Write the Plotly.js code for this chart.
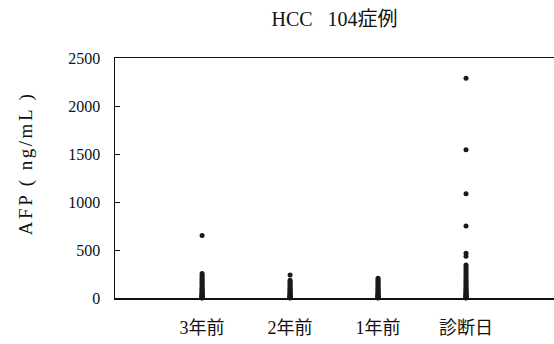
<!DOCTYPE html>
<html><head><meta charset="utf-8">
<script src="https://cdn.plot.ly/plotly-3.0.1.min.js"></script>
<style>html,body{margin:0;padding:0;background:#fff}
#c .annotation-text{letter-spacing:2.5px}</style>
</head><body><div id="c" style="width:554px;height:344px"></div>
<script>
const categories = ["3年前", "2年前", "1年前", "診断日"];
const yTicks = [0, 500, 1000, 1500, 2000, 2500];
const afp3y = [650, 255, 235, 215, 195, 180, 165, 150, 135, 120, 105, 95, 85, 75, 65, 55, 48, 40, 33, 27, 21, 16, 12, 9, 6, 4, 3, 2, 1];
const afp2y = [240, 185, 170, 155, 140, 125, 110, 98, 86, 75, 64, 54, 45, 37, 30, 24, 18, 13, 9, 6, 4, 2, 1];
const afp1y = [205, 190, 175, 160, 145, 130, 116, 102, 90, 78, 67, 57, 48, 40, 32, 25, 19, 14, 10, 6, 4, 2, 1];
const afpDx = [2290, 1545, 1085, 750, 465, 435, 345, 325, 305, 285, 265, 245, 225, 205, 185, 168, 152, 136, 120, 105, 92, 80, 68, 57, 47, 38, 30, 23, 17, 12, 8, 5, 3, 1];
const series = [afp3y, afp2y, afp1y, afpDx];

const xs = [], ys = [];
series.forEach((vals, i) => vals.forEach(v => { xs.push(categories[i]); ys.push(v); }));

const serif = '"Liberation Serif", "Noto Sans CJK JP", serif';
const data = [{
  type: 'scatter', mode: 'markers', x: xs, y: ys,
  marker: {size: 5, color: '#1a1a1a'}, hoverinfo: 'none', cliponaxis: false
}];
const layout = {
  width: 554, height: 344,
  margin: {l: 115, r: 0, t: 58, b: 46},
  paper_bgcolor: '#fff', plot_bgcolor: '#fff', showlegend: false,
  title: {text: 'HCC\u00a0\u00a0\u00a0104症例', xref: 'paper', x: 0.5, xanchor: 'center', y: 0.945, yanchor: 'middle',
          font: {family: serif, size: 20, color: '#111'}},
  xaxis: {type: 'category', categoryorder: 'array', categoryarray: categories,
          range: [-0.99, 4.0], showgrid: false, zeroline: false,
          showline: true, linecolor: '#111', linewidth: 1.5, mirror: true,
          ticks: '', ticklabelstandoff: 13,
          tickfont: {family: serif, size: 18, color: '#111'}},
  yaxis: {range: [0, 2500], tickvals: yTicks, ticktext: yTicks.map(String),
          showgrid: false, zeroline: false, showline: true, linecolor: '#111', linewidth: 1.5,
          ticks: 'inside', ticklen: 5, tickwidth: 1, tickcolor: '#111', ticklabelstandoff: 10,
          tickfont: {family: serif, size: 16, color: '#111'}},
  annotations: [{text: 'AFP ( ng/mL )', xref: 'paper', yref: 'paper', x: -0.203, y: 0.5625,
                 xanchor: 'center', yanchor: 'middle', textangle: -90, showarrow: false,
                 font: {family: serif, size: 19, color: '#111'}}]
};
Plotly.newPlot('c', data, layout, {staticPlot: true});
</script></body></html>
